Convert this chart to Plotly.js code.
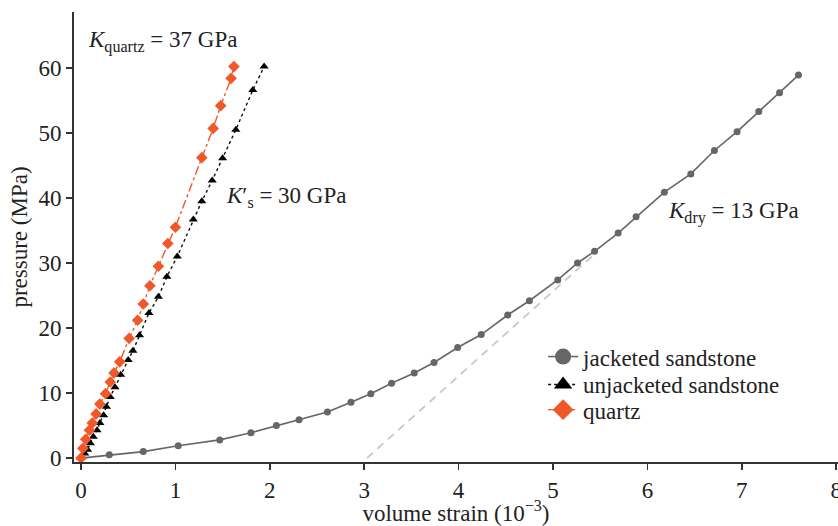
<!DOCTYPE html>
<html>
<head>
<meta charset="utf-8">
<script src="https://cdn.plot.ly/plotly-3.0.1.min.js"></script>
<style>html,body{margin:0;padding:0;background:#fff;}#chart{width:838px;height:526px;}</style>
</head>
<body>
<div id="chart"></div>
<script>
// jacketed sandstone
const jacketedStrain = [0, 0.30, 0.66, 1.03, 1.47, 1.80, 2.07, 2.31, 2.61, 2.86, 3.07, 3.29, 3.53, 3.74, 3.99, 4.24, 4.52, 4.75, 5.05, 5.26, 5.44, 5.69, 5.88, 6.18, 6.46, 6.71, 6.95, 7.18, 7.40, 7.60];
const jacketedPressure = [0, 0.5, 1.0, 1.9, 2.8, 3.9, 5.0, 5.9, 7.1, 8.6, 9.9, 11.5, 13.1, 14.7, 17.0, 19.0, 22.0, 24.2, 27.4, 30.0, 31.8, 34.6, 37.1, 40.9, 43.7, 47.3, 50.2, 53.3, 56.2, 58.9];
// unjacketed sandstone
const unjacketedStrain = [0, 0.01, 0.04, 0.07, 0.10, 0.13, 0.17, 0.20, 0.24, 0.27, 0.31, 0.36, 0.42, 0.50, 0.55, 0.62, 0.72, 0.82, 0.91, 1.02, 1.19, 1.28, 1.39, 1.50, 1.64, 1.82, 1.94];
const unjacketedPressure = [0, 0.2, 0.7, 1.3, 2.3, 3.3, 4.3, 5.4, 6.6, 7.9, 9.4, 10.9, 12.8, 15.1, 16.5, 18.9, 22.3, 24.8, 27.9, 31.0, 36.7, 39.5, 42.7, 46.1, 50.5, 56.6, 60.2];
// quartz
const quartzStrain = [0, 0.02, 0.05, 0.09, 0.12, 0.16, 0.20, 0.26, 0.31, 0.35, 0.41, 0.51, 0.60, 0.66, 0.73, 0.82, 0.92, 1.00, 1.28, 1.40, 1.48, 1.59, 1.62];
const quartzPressure = [0, 1.5, 2.9, 4.3, 5.4, 6.8, 8.3, 9.9, 11.7, 13.1, 14.8, 18.4, 21.2, 23.7, 26.5, 29.5, 33.0, 35.5, 46.2, 50.7, 54.2, 58.4, 60.2];
// K_dry tangent line
const tangentStrain = [3.03, 5.45];
const tangentPressure = [0, 31.5];

const seriesNames = ['jacketed sandstone', 'unjacketed sandstone', 'quartz'];
const xTicks = [0, 1, 2, 3, 4, 5, 6, 7, 8];
const yTicks = [0, 10, 20, 30, 40, 50, 60];

const FONT = 'Liberation Serif, Times New Roman, serif';
const FS = 23;
const grey = '#666666';
const orange = '#f0582a';

const traces = [
  {x: tangentStrain, y: tangentPressure, mode: 'lines', line: {color: '#c8c8c8', width: 1.8, dash: '8px,6px'}, showlegend: false, hoverinfo: 'skip'},
  {x: jacketedStrain, y: jacketedPressure, mode: 'lines+markers', line: {color: grey, width: 1.6}, marker: {symbol: 'circle', size: 7, color: grey}, showlegend: false},
  {x: unjacketedStrain, y: unjacketedPressure, mode: 'lines+markers', line: {color: '#111', width: 1.4, dash: 'dot'}, marker: {symbol: 'triangle-up', size: 8, color: '#000'}, showlegend: false},
  {x: quartzStrain, y: quartzPressure, mode: 'lines+markers', line: {color: orange, width: 1.4, dash: 'dashdot'}, marker: {symbol: 'diamond', size: 9, color: orange}, showlegend: false},
  // legend entries
  {x: [null], y: [null], name: seriesNames[0], legend: 'legend', mode: 'lines+markers', line: {color: grey, width: 1.6}, marker: {symbol: 'circle', size: 16, color: grey}},
  {x: [null], y: [null], name: seriesNames[1], legend: 'legend2', mode: 'lines+markers', line: {color: '#111', width: 1.4, dash: 'dot'}, marker: {symbol: 'triangle-up', size: 16, color: '#000'}},
  {x: [null], y: [null], name: seriesNames[2], legend: 'legend3', mode: 'lines+markers', line: {color: orange, width: 1.4, dash: 'dashdot'}, marker: {symbol: 'diamond', size: 16, color: orange}}
];

function leg(y) {
  return {x: 0.614, y: y, xanchor: 'left', yanchor: 'top', bgcolor: 'rgba(0,0,0,0)', font: {family: FONT, size: FS, color: '#222'}, tracegroupgap: 0};
}

const layout = {
  width: 838, height: 526,
  margin: {l: 74, r: 0, t: 12, b: 64},
  paper_bgcolor: '#fff', plot_bgcolor: '#fff',
  font: {family: FONT, size: FS, color: '#222'},
  showlegend: true,
  legend: leg(0.282),
  legend2: leg(0.220),
  legend3: leg(0.164),
  xaxis: {
    range: [-0.074, 8.019], tickvals: xTicks, ticktext: xTicks.map(String),
    showline: true, linecolor: '#333', linewidth: 2, ticks: 'outside', ticklen: 6, tickwidth: 1.5, tickcolor: '#333',
    showgrid: false, zeroline: false, ticklabeloverflow: 'allow', tickfont: {family: FONT, size: FS, color: '#222'},
    title: {text: 'volume strain (10<sup>−3</sup>)', font: {family: FONT, size: FS, color: '#222'}, standoff: 2}
  },
  yaxis: {
    range: [-0.6, 68.6], tickvals: yTicks, ticktext: yTicks.map(String),
    showline: true, linecolor: '#333', linewidth: 2, ticks: 'outside', ticklen: 6, tickwidth: 1.5, tickcolor: '#333',
    showgrid: false, zeroline: false, tickfont: {family: FONT, size: FS, color: '#222'},
    title: {text: 'pressure (MPa)', font: {family: FONT, size: FS, color: '#222'}, standoff: 4}
  },
  annotations: [
    {x: 0.05, y: 64, xref: 'x', yref: 'y', xanchor: 'left', yanchor: 'middle', showarrow: false, text: '<i>K</i><sub>quartz</sub> = 37 GPa', font: {family: FONT, size: FS, color: '#222'}},
    {x: 1.52, y: 40.2, xref: 'x', yref: 'y', xanchor: 'left', yanchor: 'middle', showarrow: false, text: '<i>K</i>′<sub>s</sub> = 30 GPa', font: {family: FONT, size: FS, color: '#222'}},
    {x: 6.20, y: 37.7, xref: 'x', yref: 'y', xanchor: 'left', yanchor: 'middle', showarrow: false, text: '<i>K</i><sub>dry</sub> = 13 GPa', font: {family: FONT, size: FS, color: '#222'}}
  ]
};

Plotly.newPlot('chart', traces, layout, {displayModeBar: false, staticPlot: true});
</script>
</body>
</html>
